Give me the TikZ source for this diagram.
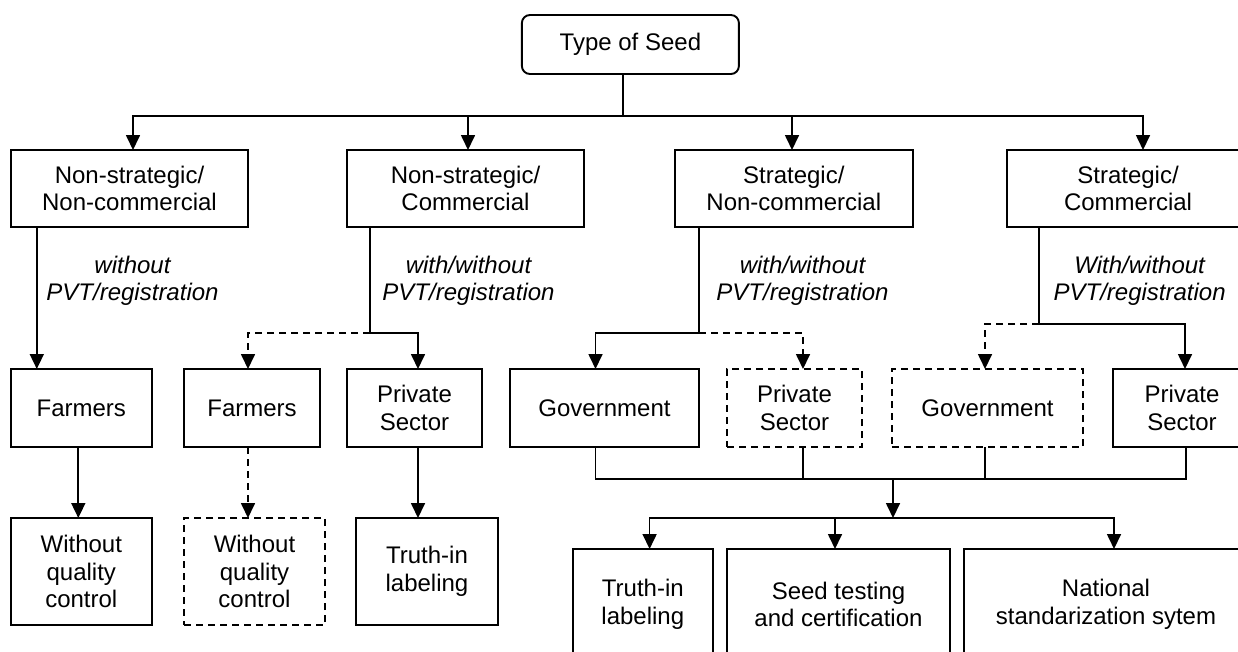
\documentclass[tikz,border=0pt]{standalone}
\usepackage{fontspec}
\setmainfont{Liberation Sans}
\usetikzlibrary{arrows.meta}
\begin{document}
\begin{tikzpicture}[x=1pt,y=-1pt,
  box/.style={draw,line width=1.9pt,inner sep=0pt,outer sep=0pt,align=center,font=\fontsize{24}{27.5}\selectfont},
  dbox/.style={box,dash pattern=on 7pt off 5pt},
  conn/.style={line width=1.7pt},
  arr/.style={conn,-{Triangle[length=15pt,width=14pt]}},
  darr/.style={arr,dash pattern=on 7pt off 5pt},
  lbl/.style={align=center,inner sep=0pt,font=\fontsize{24}{26.5}\selectfont\itshape}]
\useasboundingbox (0,0) rectangle (1238,651);
\clip (0,0) rectangle (1238,651);

% top
\node[box,rounded corners=8pt,minimum width=217pt,minimum height=59pt] (top) at (630.4,44.5) {Type of Seed};

% level 1
\node[box,minimum width=237.6pt,minimum height=77pt] (A1) at (129.5,188.5) {Non-strategic/\\Non-commercial};
\node[box,minimum width=237pt,minimum height=77pt] (A2) at (465.5,188.5) {Non-strategic/\\Commercial};
\node[box,minimum width=238.4pt,minimum height=77pt] (A3) at (793.8,188.5) {Strategic/\\Non-commercial};
\node[box,minimum width=242pt,minimum height=77pt] (A4) at (1128,188.5) {Strategic/\\Commercial};

% labels
\node[lbl] (L1) at (132.5,281) {without\\PVT/registration};
\node[lbl] (L2) at (468.5,281) {with/without\\PVT/registration};
\node[lbl] (L3) at (802.5,281) {with/without\\PVT/registration};
\node[lbl] (L4) at (1139.6,281) {With/without\\PVT/registration};

% level 2
\node[box,minimum width=141.3pt,minimum height=78pt] (F1) at (81.3,408) {Farmers};
\node[box,minimum width=136pt,minimum height=78pt] (F2) at (252,408) {Farmers};
\node[box,minimum width=135pt,minimum height=78pt] (P1) at (414.5,408) {Private\\Sector};
\node[box,minimum width=189pt,minimum height=78pt] (G1) at (604.5,408) {Government};
\node[dbox,minimum width=135pt,minimum height=78pt] (P2) at (794.5,408) {Private\\Sector};
\node[dbox,minimum width=191pt,minimum height=78pt] (G2) at (987.5,408) {Government};
\node[box,minimum width=138pt,minimum height=78pt] (P3) at (1182,408) {Private\\Sector};

% level 3
\node[box,minimum width=141.3pt,minimum height=107pt] (W1) at (81.3,571.5) {Without\\quality\\control};
\node[dbox,minimum width=141pt,minimum height=107pt] (W2) at (254.5,571.5) {Without\\quality\\control};
\node[box,minimum width=142pt,minimum height=107pt] (T1) at (427,571.5) {Truth-in\\labeling};

% bottom
\node[box,minimum width=140pt,minimum height=111pt] (T2) at (642.8,604.5) {Truth-in\\labeling};
\node[box,minimum width=223pt,minimum height=111pt] (S) at (838.5,604.5) {Seed testing\\and certification};
\node[box,minimum width=284pt,minimum height=111pt] (N) at (1106,604.5) {National\\standarization sytem};

% connectors top
\coordinate (bus) at (622.7,116);
\draw[conn] (top.south -| bus) -- (bus);
\draw[arr] (bus) -| ([xshift=3.5pt]A1.north);
\draw[arr] (bus) -| ([xshift=2.5pt]A2.north);
\draw[arr] (bus) -| ([xshift=-1.8pt]A3.north);
\draw[arr] (bus) -| ([xshift=15pt]A4.north);

% level 1 -> level 2
\draw[arr] ([xshift=-92.7pt]A1.south) -- ([xshift=-44.5pt]F1.north);
\coordinate (j2) at (370,333);
\draw[conn] (A2.south -| j2) -- (j2);
\draw[darr] (j2) -| ([xshift=-4pt]F2.north);
\draw[arr] (j2) -| ([xshift=3.5pt]P1.north);
\coordinate (j3) at (699,333);
\draw[conn] (A3.south -| j3) -- (j3);
\draw[arr] (j3) -| ([xshift=-9pt]G1.north);
\draw[darr] (j3) -| ([xshift=8.5pt]P2.north);
\coordinate (j4) at (1039,324);
\draw[conn] (A4.south -| j4) -- (j4);
\draw[darr] (j4) -| ([xshift=-2.5pt]G2.north);
\draw[arr] (j4) -| ([xshift=3pt]P3.north);

% level 2 -> level 3
\draw[arr] ([xshift=-3pt]F1.south) -- ([xshift=-3pt]W1.north);
\draw[darr] ([xshift=-4pt]F2.south) -- ([xshift=-6.5pt]W2.north);
\draw[arr] ([xshift=3.5pt]P1.south) -- ([xshift=-9pt]T1.north);

% merge
\coordinate (m) at (893,479);
\draw[conn] ([xshift=-9pt]G1.south) |- (m);
\draw[conn] ([xshift=8.5pt]P2.south) |- (m);
\draw[conn] ([xshift=-2.5pt]G2.south) |- (m);
\draw[conn] ([xshift=4pt]P3.south) |- (m);
\coordinate (b) at (893,518);
\draw[arr] (m) -- (b);
\draw[arr] (b) -| ([xshift=6.8pt]T2.north);
\draw[arr] (b) -| ([xshift=-3.5pt]S.north);
\draw[arr] (b) -| ([xshift=8pt]N.north);
\end{tikzpicture}
\end{document}
